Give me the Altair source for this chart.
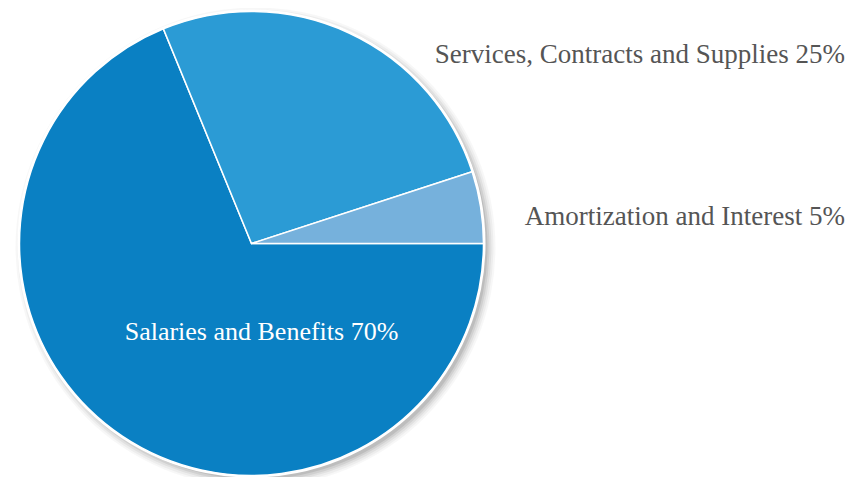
import math
import altair as alt
import pandas as pd

categories = ["Salaries and Benefits", "Services, Contracts and Supplies", "Amortization and Interest"]
values = [68.8, 26.2, 5.0]
pct_labels = ["70%", "25%", "5%"]
colors = ["#0a80c3", "#2b9bd5", "#76b1dc"]

W, H = 851, 469
CX, CY, R = 243.5, 235.5, 232
FONT = "Liberation Serif"

df = pd.DataFrame({"cat": categories, "value": values, "order": list(range(len(categories)))})
one = pd.DataFrame({"a": [0]})

layers = []
# soft shadow
for dr, op in [(8, 0.03), (6, 0.04), (4, 0.05), (2, 0.07), (0, 0.09)]:
    layers.append(
        alt.Chart(one).mark_arc(radius=R + dr, theta=0, theta2=2 * math.pi, color="#000000", opacity=op)
        .encode(x=alt.value(CX + 4), y=alt.value(CY + 4))
    )
# white rim
layers.append(
    alt.Chart(one).mark_arc(radius=R + 2, theta=0, theta2=2 * math.pi, color="#ffffff")
    .encode(x=alt.value(CX), y=alt.value(CY))
)
pie = alt.Chart(df).mark_arc(radius=R, stroke="white", strokeWidth=1.5).encode(
    theta=alt.Theta("value:Q", stack=True,
                    scale=alt.Scale(range=[math.pi / 2, math.pi / 2 + 2 * math.pi])),
    color=alt.Color("cat:N", scale=alt.Scale(domain=categories, range=colors), legend=None),
    order=alt.Order("order:Q"),
    x=alt.value(CX), y=alt.value(CY),
)
layers.append(pie)

label_specs = [
    (0, 253.5, 332, "center", "#ffffff", 26),
    (1, 837, 55, "right", "#555555", 27),
    (2, 837, 217, "right", "#555555", 27),
]
for i, x, y, align, col, fs in label_specs:
    layers.append(
        alt.Chart(pd.DataFrame({"t": [f"{categories[i]} {pct_labels[i]}"]}))
        .mark_text(font=FONT, fontSize=fs, align=align, baseline="alphabetic", color=col)
        .encode(text="t:N", x=alt.value(x), y=alt.value(y))
    )

chart = alt.layer(*layers).properties(
    width=W, height=H, padding=0, autosize=alt.AutoSizeParams(type="none")
).configure_view(stroke=None)

chart.save("out.html", embed_options={"renderer": "svg", "actions": False})
